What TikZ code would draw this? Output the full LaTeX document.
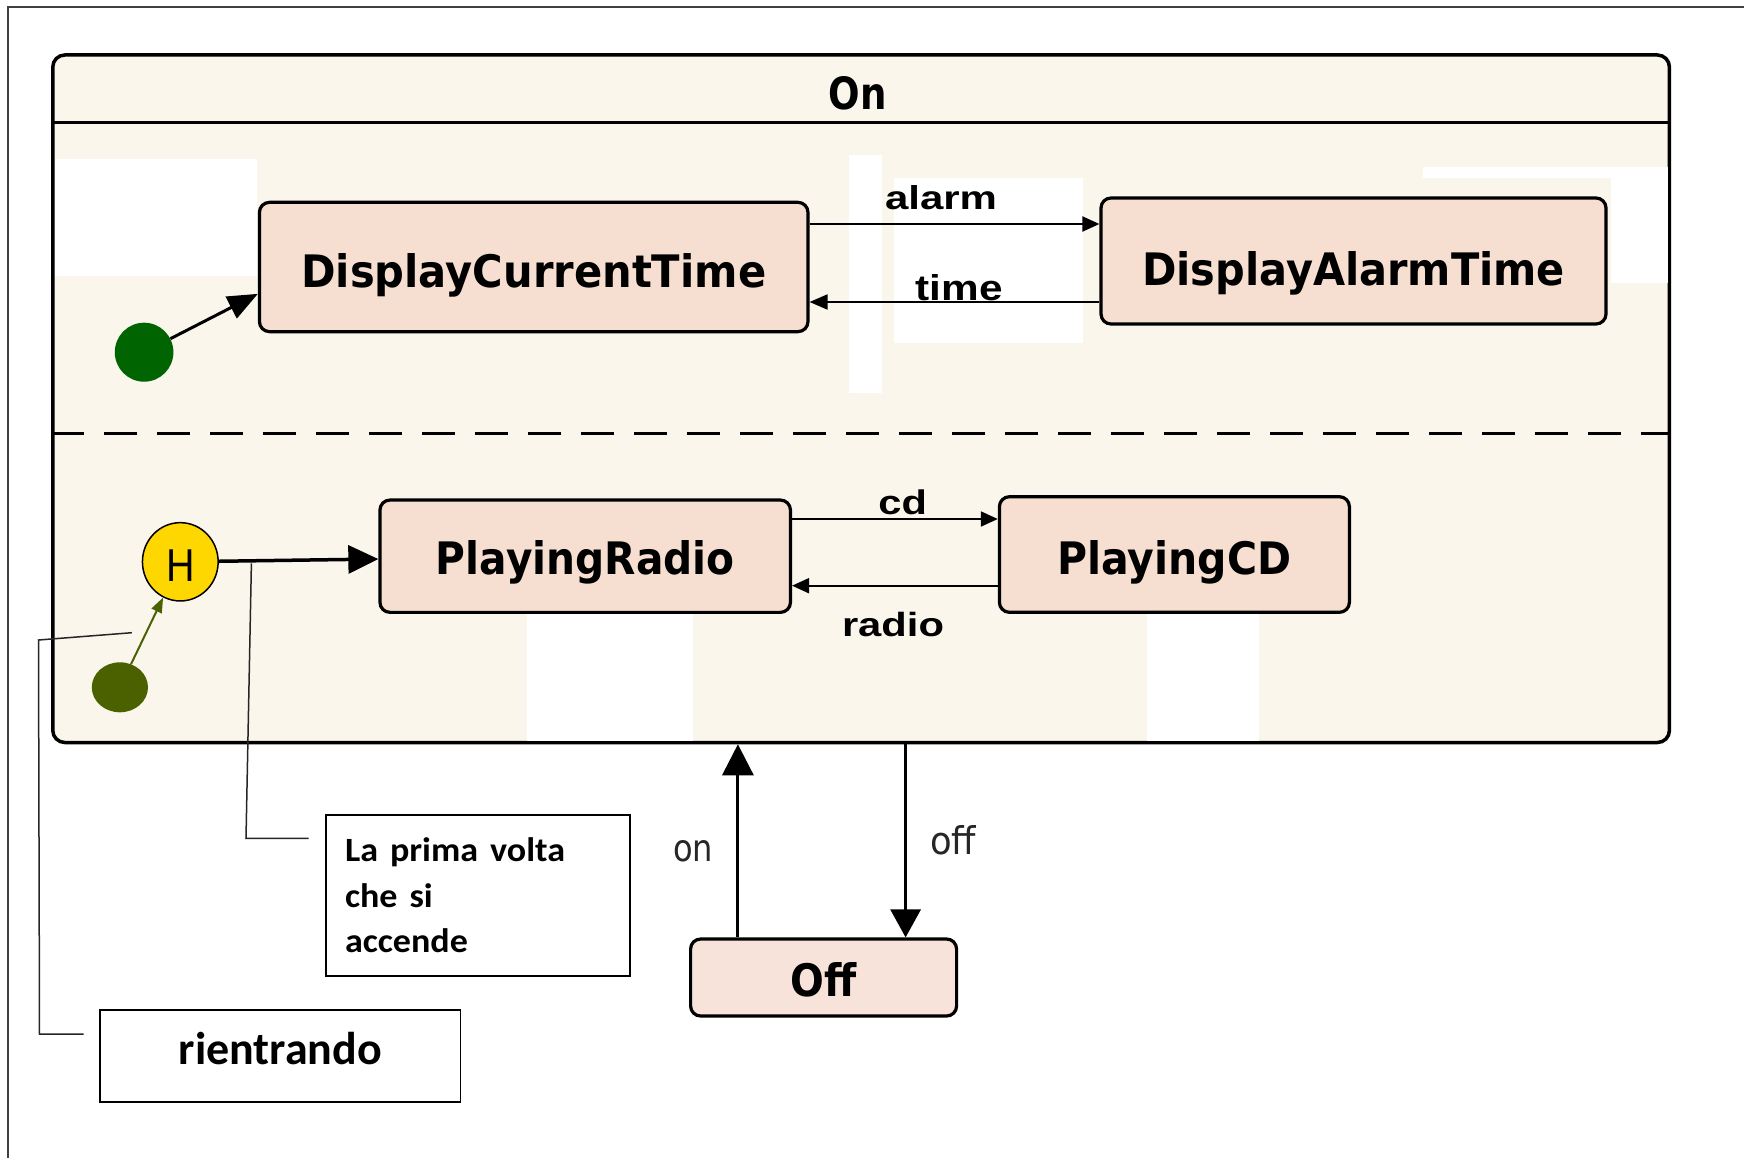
\documentclass[tikz,border=0pt]{standalone}
\usepackage{fontspec}
\usepackage{graphicx}
\setmainfont{Liberation Sans}
\newfontfamily\stfont{DejaVu Sans}
\newfontfamily\notefont{Carlito}
\newfontfamily\lblfont{Liberation Sans}
\newfontfamily\thinfont{DejaVu Sans}
\usetikzlibrary{arrows.meta,shapes.geometric,calc}
\definecolor{onfill}{HTML}{FAF6EC}
\definecolor{stfill}{HTML}{F6DFD0}
\definecolor{offfill}{HTML}{F7E3DA}
\definecolor{hyellow}{HTML}{FFD700}
\definecolor{ginit}{HTML}{006400}
\definecolor{oinit}{HTML}{4B6100}
\newcommand\stlabel[2]{\resizebox{#1}{34pt}{\stfont\bfseries #2}}
\newcommand\fitlbl[3]{\resizebox{#1}{#2}{\lblfont\bfseries #3}}
\begin{document}
\begin{tikzpicture}[x=1pt,y=-1pt,
  stbox/.style={draw,line width=3.2pt,fill=stfill,rounded corners=10pt,inner sep=0pt,text height=40pt,text depth=0pt},
  trarrow/.style={line width=2pt,-{Triangle[length=17pt,width=15pt]}},
  bigarrow/.style={line width=3.5pt,-{Triangle[length=30pt,width=28pt]}},
  vert/.style={line width=3pt},
  lbl/.style={anchor=base,inner sep=0pt},
  leader/.style={line width=1.5pt,black!85},
  note/.style={draw,line width=1.5pt,fill=white}
]
\useasboundingbox (0,0) rectangle (1744,1158);
\fill[white] (0,0) rectangle (1744,1158);
% outer frame
\draw[line width=1.6pt,black!75] (8,1158) -- (8,7) -- (1744,7);
% composite state On
\node[draw,line width=3.5pt,fill=onfill,rounded corners=12pt,minimum width=1616.6pt,minimum height=687.5pt,inner sep=0pt] (onbox) at (861.1,398.75) {};
% white patches of the screenshot
\fill[white] (54.5,159) rectangle (257,276);
\fill[white] (848.5,155) rectangle (882,393);
\fill[white] (894,178) rectangle (1082.6,343);
\fill[white] (1423,166.7) rectangle (1667.6,178.3);
\fill[white] (1611,178.3) rectangle (1667.6,283.3);
\fill[white] (527,612) rectangle (693,740.7);
\fill[white] (1147,612) rectangle (1259,740.7);
% header and region separator
\draw[line width=3.5pt] (onbox.west |- 0,122.7) -- (onbox.east |- 0,122.7);
\draw[line width=3pt,dash pattern=on 33pt off 20pt] (onbox.west |- 0,433) -- (onbox.east |- 0,433);
\node[lbl] (ontitle) at (857.5,109.3) {\resizebox{58pt}{33pt}{\stfont\bfseries On}};
% states
\node[stbox,minimum width=548.5pt,minimum height=129.3pt] (dct) at (533.7,267) {\stlabel{465pt}{DisplayCurrentTime}};
\node[stbox,minimum width=505pt,minimum height=126pt,text height=48pt] (dat) at (1353.5,261) {\stlabel{423pt}{DisplayAlarmTime}};
\node[stbox,minimum width=410.5pt,minimum height=112.3pt,text height=36pt] (pr) at (585.2,556.2) {\stlabel{298.5pt}{PlayingRadio}};
\node[stbox,minimum width=350pt,minimum height=115.6pt,text height=39.6pt] (pcd) at (1174.4,554.5) {\stlabel{234pt}{PlayingCD}};
\node[stbox,fill=offfill,minimum width=266pt,minimum height=77pt,text height=38.4pt] (off) at (823.6,977.5) {\stlabel{66pt}{Off}};
% pseudo states
\node[ellipse,fill=ginit,minimum width=58.6pt,minimum height=59pt,inner sep=0pt] (init1) at (144.1,352.2) {};
\node[ellipse,draw,line width=1.5pt,fill=hyellow,minimum width=75.7pt,minimum height=78.3pt,inner sep=0pt,text height=39.8pt,text depth=0pt] (hist) at (180.3,561.8) {\resizebox{28.5pt}{31.7pt}{\lblfont H}};
\node[ellipse,fill=oinit,minimum width=56.2pt,minimum height=50pt,inner sep=0pt] (init2) at (119.9,687.3) {};
% transitions
\draw[line width=3pt,-{Triangle[length=30pt,width=24pt]}] (init1) -- ([yshift=39.4pt]dct.south west);
\draw[line width=2pt,oinit,-{Triangle[length=15pt,width=11pt]}] (init2) -- (hist);
\draw[bigarrow] (hist) -- (pr);
\draw[trarrow] (dct.east |- 0,224) -- (dat.west |- 0,224);
\draw[line width=2pt,-{Triangle[length=18pt,width=15pt]}] (dat.west |- 0,302) -- (dct.east |- 0,302);
\draw[trarrow] (pr.east |- 0,519) -- (pcd.west |- 0,519);
\draw[trarrow] (pcd.west |- 0,585.7) -- (pr.east |- 0,585.7);
\draw[vert,-{Triangle[length=31pt,width=31pt]}] (off.north -| 737.9,0) -- (onbox.south -| 737.9,0);
\draw[vert,-{Triangle[length=28pt,width=30pt]}] (onbox.south -| 905.6,0) -- (off.north -| 905.6,0);
% transition labels
\node[lbl] (alarmlbl) at (941,209.3) {\fitlbl{112pt}{24pt}{alarm}};
\node[lbl] (timelbl) at (959.2,300) {\fitlbl{87pt}{26pt}{time}};
\node[lbl] (cdlbl) at (902.7,514) {\fitlbl{48.5pt}{24.7pt}{cd}};
\node[lbl] (radiolbl) at (893,636) {\fitlbl{102pt}{24.3pt}{radio}};
\node[lbl,text=black!85] (onlbl) at (693,861.7) {\resizebox{40pt}{21pt}{\thinfont on}};
\node[lbl,text=black!85] (offlbl) at (953,854.3) {\resizebox{46pt}{29pt}{\thinfont off}};
% notes
\node[note,text width=266pt,inner xsep=19pt,minimum height=161pt,align=left,font=\notefont\bfseries\fontsize{34}{45.5}\selectfont] (note1) at (478,895.5) {\scalebox{1.06}[1]{La prima volta}\\\scalebox{1.06}[1]{che si}\\\scalebox{1.06}[1]{accende}};
\node[note,minimum width=360.5pt,minimum height=91.7pt,font=\notefont\bfseries\fontsize{46}{55}\selectfont,text height=18pt,text depth=0pt] (note2) at (280.3,1055.9) {rientrando};
% leader lines
\coordinate (l1s) at (251.4,563.3);
\coordinate (l1c) at (246,838.3);
\coordinate (l1e) at (308.7,838.3);
\draw[leader] (l1s) -- (l1c) -- (l1e);
\coordinate (l2s) at (131.9,632.7);
\coordinate (l2a) at (38.5,640);
\coordinate (l2b) at (39.5,1034);
\coordinate (l2e) at (83.5,1034);
\draw[leader] (l2s) -- (l2a) -- (l2b) -- (l2e);
\end{tikzpicture}
\end{document}
